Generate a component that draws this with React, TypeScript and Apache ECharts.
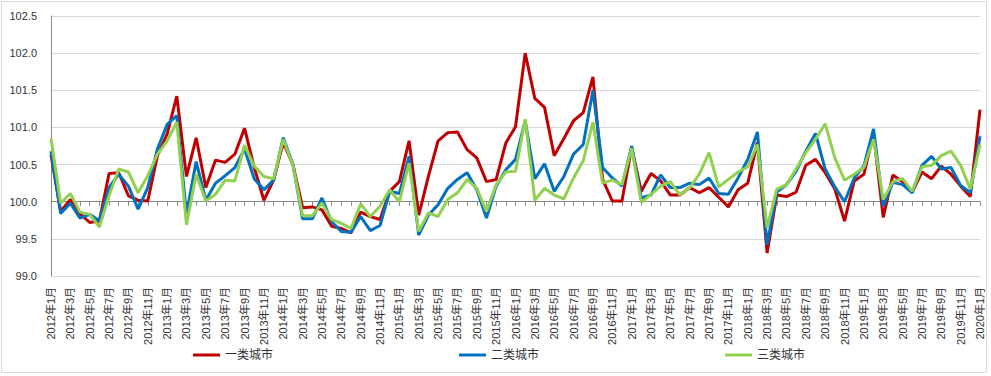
import React, { useEffect, useRef } from "react";
import * as echarts from "echarts";

const years = [2012, 2013, 2014, 2015, 2016, 2017, 2018, 2019, 2020];
const categories: string[] = [];
for (const y of years) {
  for (let m = 1; m <= 12; m++) {
    if (y === 2020 && m > 1) break;
    categories.push(`${y}年${m}月`);
  }
}

const seriesNames = ["一类城市", "二类城市", "三类城市"];

const tier1 = [
  100.63, 99.87, 100.03, 99.84, 99.72, 99.74, 100.38, 100.39, 100.08, 100.02, 100.01, 100.62,
  100.91, 101.42, 100.34, 100.86, 100.19, 100.56, 100.53, 100.64, 100.99, 100.46, 100.02, 100.29,
  100.8, 100.5, 99.92, 99.93, 99.89, 99.67, 99.64, 99.58, 99.86, 99.8, 99.76, 100.14,
  100.27, 100.82, 99.82, 100.34, 100.82, 100.93, 100.94, 100.7, 100.59, 100.27, 100.3, 100.79,
  101.01, 102.0, 101.39, 101.27, 100.62, 100.85, 101.09, 101.2, 101.68, 100.3, 100.01, 100.01,
  100.73, 100.14, 100.38, 100.28, 100.09, 100.09, 100.19, 100.12, 100.19, 100.06, 99.93, 100.16,
  100.25, 100.8, 99.31, 100.09, 100.07, 100.13, 100.49, 100.57, 100.39, 100.17, 99.74, 100.28,
  100.37, 100.91, 99.79, 100.36, 100.27, 100.13, 100.4, 100.31, 100.48, 100.37, 100.21, 100.07,
  101.24,
];

const tier2 = [
  100.68, 99.84, 99.98, 99.78, 99.83, 99.74, 100.19, 100.37, 100.21, 99.9, 100.19, 100.71,
  101.04, 101.16, 99.83, 100.54, 100.02, 100.25, 100.35, 100.46, 100.71, 100.31, 100.16, 100.29,
  100.86, 100.5, 99.77, 99.77, 100.05, 99.73, 99.6, 99.59, 99.8, 99.61, 99.68, 100.14,
  100.11, 100.61, 99.55, 99.82, 99.96, 100.18, 100.3, 100.39, 100.16, 99.78, 100.21, 100.43,
  100.57, 101.09, 100.31, 100.51, 100.14, 100.34, 100.64, 100.77, 101.5, 100.46, 100.32, 100.21,
  100.75, 100.05, 100.09, 100.36, 100.19, 100.19, 100.25, 100.23, 100.32, 100.11, 100.1, 100.32,
  100.57, 100.94, 99.42, 100.13, 100.23, 100.41, 100.68, 100.92, 100.44, 100.2, 100.0, 100.32,
  100.48, 100.98, 99.94, 100.26, 100.23, 100.12, 100.49, 100.61, 100.44, 100.46, 100.22, 100.12,
  100.88,
];

const tier3 = [
  100.85, 99.98, 100.11, 99.86, 99.83, 99.66, 100.08, 100.44, 100.4, 100.12, 100.35, 100.64,
  100.82, 101.07, 99.69, 100.37, 100.01, 100.1, 100.29, 100.28, 100.76, 100.48, 100.34, 100.31,
  100.84, 100.49, 99.81, 99.81, 99.98, 99.76, 99.71, 99.64, 99.97, 99.8, 99.94, 100.16,
  100.0, 100.52, 99.6, 99.85, 99.8, 100.03, 100.12, 100.3, 100.18, 99.87, 100.23, 100.4,
  100.41, 101.11, 100.02, 100.18, 100.09, 100.04, 100.32, 100.55, 101.07, 100.25, 100.29, 100.23,
  100.72, 99.99, 100.1, 100.21, 100.27, 100.09, 100.19, 100.37, 100.66, 100.2, 100.3, 100.4,
  100.47, 100.77, 99.65, 100.17, 100.23, 100.44, 100.66, 100.84, 101.05, 100.59, 100.29, 100.37,
  100.46, 100.84, 100.03, 100.27, 100.31, 100.14, 100.47, 100.49, 100.62, 100.68, 100.49, 100.17,
  100.77,
];

const colors = ["#C00000", "#0070C0", "#92D050"];
const FONT = "'Liberation Sans', 'Noto Sans CJK SC', sans-serif";

export default function App() {
  const ref = useRef<HTMLDivElement>(null);

  useEffect(() => {
    if (!ref.current) return;
    const chart = echarts.init(ref.current, null, { renderer: "svg" });
    const gridTop = 16;
    const gridBottom = 100;
    const gridHeight = 376 - gridTop - gridBottom;
    const yMin = 99;
    const yMax = 102.5;
    const crossOffset = -((100 - yMin) / (yMax - yMin)) * gridHeight;

    chart.setOption({
      animation: false,
      backgroundColor: "#ffffff",
      graphic: [
        {
          type: "rect",
          shape: { x: 1.5, y: 1.5, width: 985, height: 371 },
          style: { fill: "none", stroke: "#d9d9d9", lineWidth: 1 },
          silent: true,
        },
      ],
      legend: {
        data: seriesNames,
        left: 193,
        top: 349,
        padding: 0,
        itemGap: 186,
        itemWidth: 27,
        itemHeight: 3,
        icon: "rect",
        textStyle: { fontSize: 12, color: "#333", fontFamily: FONT },
      },
      grid: { left: 51, right: 11, top: gridTop, bottom: gridBottom, containLabel: false },
      xAxis: [
        {
          type: "category",
          data: categories,
          boundaryGap: false,
          position: "bottom",
          axisLine: { show: false, onZero: false },
          axisTick: { show: false },
          splitLine: { show: false },
          axisLabel: {
            interval: 1,
            rotate: 90,
            margin: 11,
            fontSize: 11,
            color: "#333",
            fontFamily: FONT,
          },
        },
        {
          type: "category",
          data: categories,
          boundaryGap: false,
          position: "bottom",
          offset: crossOffset,
          axisLine: { show: true, onZero: false, lineStyle: { color: "#868686", width: 1 } },
          axisTick: { show: true, interval: 0, length: 4, lineStyle: { color: "#868686" } },
          axisLabel: { show: false },
          splitLine: { show: false },
        },
      ],
      yAxis: {
        type: "value",
        min: yMin,
        max: yMax,
        interval: 0.5,
        axisLine: { show: true, lineStyle: { color: "#868686" } },
        axisTick: { show: false },
        splitLine: { show: true, lineStyle: { color: "#d9d9d9", width: 1 } },
        axisLabel: {
          formatter: (v: number) => v.toFixed(1),
          fontSize: 11,
          color: "#333",
          margin: 14,
          fontFamily: FONT,
        },
      },
      series: [tier1, tier2, tier3].map((d, i) => ({
        name: seriesNames[i],
        type: "line",
        data: d,
        xAxisIndex: 0,
        symbol: "none",
        showSymbol: false,
        lineStyle: { width: 3, color: colors[i] },
        itemStyle: { color: colors[i] },
        z: 2 + i,
      })),
    });

    return () => chart.dispose();
  }, []);

  return (
    <div
      ref={ref}
      style={{ position: "absolute", left: 0, top: 0, width: 991, height: 376 }}
    />
  );
}
